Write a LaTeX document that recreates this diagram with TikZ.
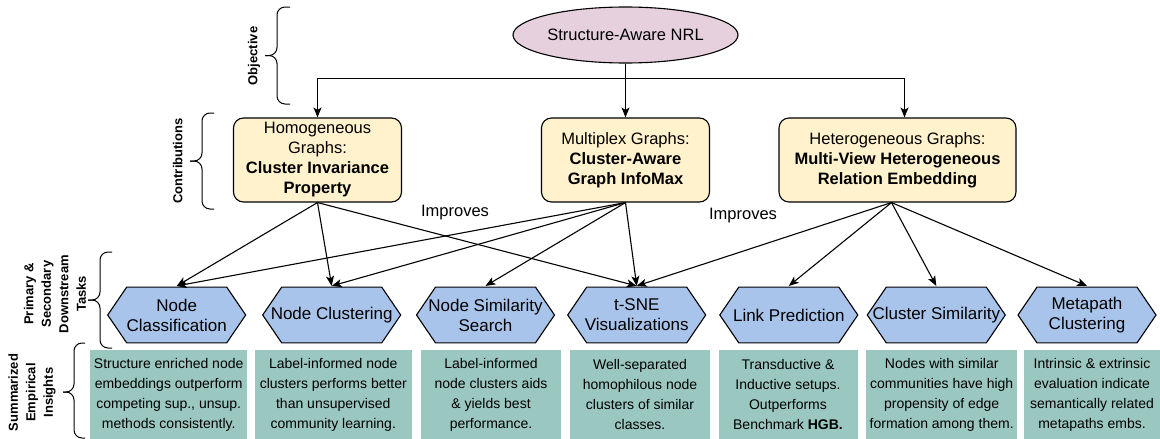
\documentclass[tikz,border=0pt]{standalone}
\usepackage{fontspec}
\setmainfont{Liberation Sans}
\usetikzlibrary{arrows.meta,shapes.geometric}
\definecolor{goalpink}{HTML}{E6D0DE}
\definecolor{contribyellow}{HTML}{FFF2CC}
\definecolor{taskblue}{HTML}{A9C4EB}
\definecolor{insightgreen}{HTML}{9AC7BF}
\begin{document}
\begin{tikzpicture}
			[x=1pt,y=-1pt,line width=1.1pt,>={Stealth[length=10pt,width=8pt,inset=2.5pt]},
			goal/.style={ellipse,draw,fill=goalpink,minimum width=225pt,minimum height=56pt,inner sep=0pt,font=\fontsize{16.5}{20}\selectfont},
			contrib/.style={draw,fill=contribyellow,rounded corners=10pt,minimum height=84pt,inner sep=0pt,align=center,font=\fontsize{16.5}{20}\selectfont},
			task/.style={minimum width=140pt,minimum height=57pt,inner sep=0pt,align=center,font=\fontsize{17}{20}\selectfont,
				path picture={\filldraw[fill=taskblue,line width=1.1pt]
					([shift={(20pt,-0.6pt)}]path picture bounding box.north west) --
					([shift={(-20pt,-0.6pt)}]path picture bounding box.north east) --
					([xshift=-1pt]path picture bounding box.east) --
					([shift={(-20pt,0.6pt)}]path picture bounding box.south east) --
					([shift={(20pt,0.6pt)}]path picture bounding box.south west) --
					([xshift=1pt]path picture bounding box.west) -- cycle;}},
			insight/.style={fill=insightgreen,minimum height=89pt,inner sep=0pt,align=center,font=\fontsize{14}{20}\selectfont},
			side/.style={rotate=90,align=center,font=\fontsize{13}{17.5}\selectfont\bfseries},
			brace/.style={rounded corners=8pt,line width=1pt}]
			\useasboundingbox (0,0) rectangle (1160,439);
			\node[goal] (nrl) at (625.5,35) {Structure-Aware NRL};
			\node[contrib,minimum width=168pt] (homo) at (317.5,160) {Homogeneous\\Graphs:\\\textbf{Cluster Invariance}\\\textbf{Property}};
			\node[contrib,minimum width=168pt] (multi) at (625.5,160) {Multiplex Graphs:\\\textbf{Cluster-Aware}\\\textbf{Graph InfoMax}};
			\node[contrib,minimum width=237pt] (hetero) at (897.5,160) {Heterogeneous Graphs:\\\textbf{Multi-View Heterogeneous}\\\textbf{Relation Embedding}};
			\node[task] (t1) at (176.7,315) {Node\\Classification};
			\node[task] (t2) at (331.7,315) {Node Clustering};
			\node[task] (t3) at (485.5,315) {Node Similarity\\Search};
			\node[task] (t4) at (636.7,315) {t-SNE\\Visualizations};
			\node[task] (t5) at (788.8,315) {Link Prediction};
			\node[task] (t6) at (936.3,315) {Cluster Similarity};
			\node[task] (t7) at (1087,315) {Metapath\\Clustering};
			\node[insight,minimum width=157pt] (i1) at (168.7,394.5) {Structure enriched node\\embeddings outperform\\competing sup., unsup.\\methods consistently.};
			\node[insight,minimum width=157pt] (i2) at (333.3,394.5) {Label-informed node\\clusters performs better\\than unsupervised\\community learning.};
			\node[insight,minimum width=140pt] (i3) at (491,394.5) {Label-informed\\node clusters aids\\\& yields best\\performance.};
			\node[insight,minimum width=140pt] (i4) at (640,394.5) {Well-separated\\homophilous node\\clusters of similar\\classes.};
			\node[insight,minimum width=139pt] (i5) at (788,394.5) {Transductive \&\\Inductive setups.\\Outperforms\\Benchmark \textbf{HGB.}};
			\node[insight,minimum width=151pt] (i6) at (941.7,394.5) {Nodes with similar\\communities have high\\propensity of edge\\formation among them.};
			\node[insight,minimum width=136pt] (i7) at (1092,394.5) {Intrinsic \& extrinsic\\evaluation indicate\\semantically related\\metapaths embs.};
			\node[font=\fontsize{16.5}{20}\selectfont] (imp1) at (455,213) {Improves};
			\node[font=\fontsize{16.5}{20}\selectfont] (imp2) at (743,216) {Improves};
			\node[side] (objective) at (254,56) {Objective};
			\node[side] (contributions) at (177.7,161) {Contributions};
			\node[side] (tasks) at (55,294) {Primary \&\\Secondary\\Downstream\\Tasks};
			\node[side] (insights) at (32,392.5) {Summarized\\Empirical\\Insights};
			\draw[brace] (290,7) -- (277,7) -- (277,55.5) -- (265,55.5);
			\draw[brace] (290,104) -- (277,104) -- (277,55.5) -- (265,55.5);
			\draw[brace] (214,113) -- (202,113) -- (202,161) -- (190,161);
			\draw[brace] (214,209) -- (202,209) -- (202,161) -- (190,161);
			\draw[brace] (112,252) -- (100,252) -- (100,300) -- (88,300);
			\draw[brace] (112,348) -- (100,348) -- (100,300) -- (88,300);
			\draw[brace] (85,343) -- (74,343) -- (74,392) -- (63,392);
			\draw[brace] (85,438) -- (74,438) -- (74,392) -- (63,392);
			\draw[->] (nrl.south) -- ++(0,15) -| (homo.north);
			\draw[->] (nrl.south) -- ++(0,15) -| ([xshift=7pt]hetero.north);
			\draw[->] (nrl.south) -- (multi.north);
			\foreach \t in {t1,t2,t4}
				\draw[->] (homo.south) -- (\t.north);
			\foreach \t in {t1,t2,t3,t4}
				\draw[->] (multi.south) -- (\t.north);
			\foreach \t in {t4,t5,t6,t7}
				\draw[->] ([xshift=-6pt]hetero.south) -- (\t.north);
		\end{tikzpicture}
\end{document}
